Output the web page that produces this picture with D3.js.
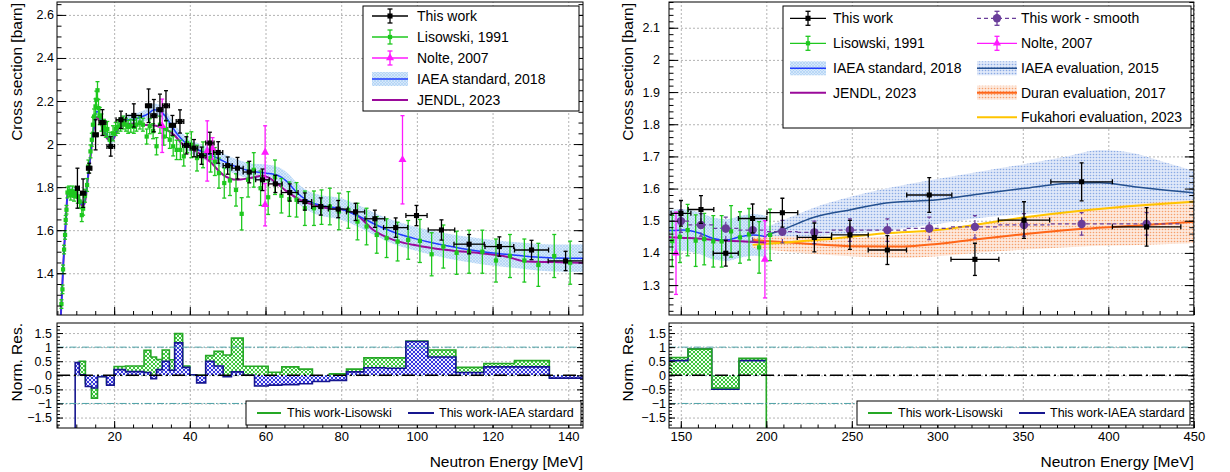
<!DOCTYPE html>
<html>
<head>
<meta charset="utf-8">
<script src="https://d3js.org/d3.v7.min.js"></script>
<style>
  body { margin: 0; background: #fff; }
  svg { font-family: "Liberation Sans", Arial, Helvetica, sans-serif; }
</style>
</head>
<body>
<svg id="chart" width="1230" height="472"></svg>
<script>
// ---- data ----
// [energy MeV, cross section barn, x error, y error]
const thisWork = [
  [10.3,1.795,0.5,0.093],[11.8,1.772,0.7,0.066],[13.4,1.888,0.7,0.023],[15.1,2.043,0.7,0.07],
  [16.9,2.10,0.9,0.06],[19.1,1.989,1.0,0.045],[21.8,2.113,1.3,0.04],[25.2,2.133,2.0,0.054],
  [29.1,2.178,0.8,0.078],[30.5,2.132,0.8,0.075],[32.1,2.16,0.8,0.072],[33.7,2.178,0.9,0.07],
  [35.4,2.087,0.8,0.046],[37.4,2.105,1.0,0.054],[39.1,1.994,1.0,0.04],[41.1,1.981,1.0,0.04],
  [43.1,1.946,1.2,0.04],[45.3,2.005,1.1,0.05],[47.5,1.961,1.2,0.05],[50.0,1.90,1.2,0.04],
  [52.6,1.888,1.5,0.05],[55.7,1.87,1.6,0.05],[59.2,1.834,1.8,0.05],[62.6,1.815,1.8,0.04],
  [66.4,1.775,2.2,0.04],[70.4,1.733,1.8,0.04],[74.6,1.71,2.4,0.04],[79.2,1.698,2.6,0.04],
  [83.8,1.685,2.4,0.04],[88.9,1.653,2.6,0.04],[94.4,1.612,3.2,0.045],[99.9,1.668,2.8,0.047],
  [106.5,1.601,3.5,0.047],[113.8,1.535,4.0,0.045],[121.8,1.524,3.8,0.045],[130.3,1.508,4.5,0.045],
  [139.3,1.457,4.6,0.045],
  [150.1,1.523,5.8,0.04],[161.8,1.535,7.5,0.043],[176.3,1.399,7.3,0.04],[192.0,1.507,8.3,0.045],
  [209.4,1.525,9,0.045],[228.1,1.448,10,0.045],[248.9,1.456,10.7,0.045],[270.8,1.409,11.2,0.045],
  [295.3,1.58,13.2,0.054],[322.0,1.38,14,0.05],[350.7,1.502,15,0.057],[384.4,1.621,18,0.059],
  [422.4,1.481,20,0.06]
];
const thisWorkSmooth = [
  [150.1,1.499,5.8,0.035],[161.8,1.487,7.5,0.035],[176.3,1.476,7.3,0.035],[192.0,1.471,8.3,0.035],
  [209.4,1.466,9,0.035],[228.1,1.464,10,0.035],[248.9,1.471,10.7,0.035],[270.8,1.471,11.2,0.035],
  [295.3,1.476,13.2,0.035],[322.0,1.481,14,0.035],[350.7,1.487,15,0.035],[384.4,1.49,18,0.035],
  [422.4,1.49,20,0.035]
];
// [energy, cross section, y error]
const lisowski = [
  [6.07,1.257,.02],[6.34,1.325,.02],[6.5,1.418,.02],[6.77,1.51,.02],[7.03,1.578,.02],[7.2,1.648,.02],
  [7.4,1.695,.02],[7.67,1.775,.025],[8.1,1.78,.025],[8.54,1.765,.025],[8.99,1.78,.025],[9.4,1.76,.025],
  [9.86,1.775,.025],[10.4,1.755,.03],[10.9,1.733,.03],[11.45,1.67,.03],[11.8,1.70,.03],[12.3,1.76,.03],
  [12.85,1.81,.03],[13.2,1.896,.03],[13.75,1.966,.03],[14.1,2.02,.03],[14.4,2.09,.035],[14.7,2.128,.035],
  [15.07,2.175,.035],[15.3,2.206,.04],[15.6,2.25,.04],[15.86,2.167,.04],[16.2,2.13,.04],[16.65,2.10,.04],
  [17.3,2.08,.035],[17.8,2.067,.035],[18.2,2.07,.035],[18.85,2.02,.035],[19.7,2.05,.035],[20.4,2.07,.03],
  [21.0,2.08,.03],[21.7,2.09,.03],[22.4,2.10,.03],[23.1,2.09,.03],[23.7,2.08,.03],[24.4,2.085,.03],
  [25.2,2.08,.03],[25.9,2.09,.03],[26.8,2.10,.03],[27.6,2.09,.03],[28.6,2.035,.035],[29.4,2.083,.035],
  [30.3,2.06,.035],[31.2,1.99,.04],[32.1,2.09,.04],[33.1,2.035,.04],[33.8,2.07,.04],[34.7,2.02,.04],
  [35.6,1.99,.045],[36.5,1.973,.045],[37.5,1.973,.045],[38.4,1.943,.045],[39.3,2.005,.045],[40.4,1.997,.06],
  [41.9,1.935,.06],[43.5,1.95,.06],[45.5,1.935,.065],[46.6,1.919,.065],[47.7,1.865,.07],[49.1,1.819,.07],
  [50.6,1.831,.07],[52.2,1.787,.075],[53.7,1.676,.075],[55.4,1.834,.08],[56.9,1.88,.08],[58.7,1.795,.08],
  [60.7,1.753,.08],[62.5,1.846,.08],[64.2,1.76,.08],[66.3,1.744,.08],[68.2,1.741,.08],[70.4,1.702,.08],
  [72.8,1.702,.08],[74.8,1.707,.08],[77.0,1.71,.085],[79.4,1.687,.085],[81.9,1.694,.085],[84.3,1.64,.085],
  [86.7,1.617,.085],[89.4,1.578,.085],[92.0,1.563,.09],[94.9,1.547,.09],[97.7,1.555,.09],[100.8,1.55,.1],
  [103.9,1.488,.1],[107.0,1.524,.1],[110.5,1.495,.1],[113.8,1.50,.1],[117.3,1.50,.1],[120.9,1.459,.1],
  [124.6,1.48,.1],[128.4,1.459,.1],[132.1,1.439,.1],[136.3,1.48,.1],[140.5,1.449,.1],[145.0,1.437,.08],
  [149.5,1.45,.08],[154.0,1.471,.08],[158.7,1.438,.08],[163.7,1.443,.08],[169.0,1.436,.08],[173.9,1.436,.08],
  [179.4,1.467,.08],[184.6,1.448,.08],[189.9,1.458,.08],[195.8,1.417,.08],[202.2,1.456,.08]
];
const nolte = [
  [32.7,2.085,0.124],[44.6,1.968,0.14],[46.0,1.98,0.05],[59.9,1.961,0.124],[59.9,1.718,0.098],
  [96.2,1.927,0.205],[147.2,1.399,0.128],[199.2,1.38,0.12]
];
// [energy, cross section, band half width]
const iaeaStd = [
  [5.9,1.2,.02],[6.2,1.3,.02],[6.5,1.42,.02],[6.8,1.52,.02],[7.1,1.6,.02],[7.4,1.7,.02],[7.7,1.77,.02],
  [8.0,1.785,.02],[9.0,1.78,.02],[10.0,1.775,.02],[10.8,1.745,.02],[11.5,1.72,.02],[12.0,1.72,.02],
  [12.5,1.76,.02],[13.0,1.84,.02],[13.6,1.92,.02],[14.2,2.02,.02],[14.8,2.10,.02],[15.3,2.15,.025],
  [15.8,2.15,.025],[16.4,2.11,.025],[17.2,2.07,.025],[18.0,2.045,.025],[18.8,2.025,.025],[19.6,2.025,.025],
  [20.5,2.06,.025],[21.5,2.09,.025],[23,2.11,.025],[25,2.115,.025],[27,2.125,.025],[29,2.14,.028],
  [30.5,2.16,.028],[32,2.155,.028],[33.5,2.13,.028],[35,2.09,.03],[36.5,2.05,.03],[38,2.02,.03],
  [40,1.99,.03],[42.6,1.97,.032],[46,1.945,.034],[51.5,1.90,.035],[56.7,1.872,.037],[60.3,1.865,.04],
  [63.8,1.85,.04],[66,1.82,.042],[68,1.78,.045],[70.9,1.74,.045],[74.4,1.716,.048],[79.7,1.70,.05],
  [84.9,1.663,.05],[90.2,1.617,.052],[94.6,1.586,.055],[99,1.563,.055],[104.3,1.54,.057],[111.4,1.516,.058],
  [118.4,1.498,.06],[125.5,1.485,.06],[132.5,1.474,.062],[140,1.47,.063],[146,1.47,.065],[151.5,1.471,.065],
  [161.2,1.461,.065],[169,1.445,.065],[176.8,1.44,.065],[184.6,1.45,.065],[192.4,1.456,.065],[200.2,1.45,.065]
];
const jendl = [
  [5.9,1.2],[6.2,1.3],[6.5,1.42],[6.8,1.52],[7.1,1.6],[7.4,1.7],[7.7,1.77],[8,1.78],[9,1.775],[10,1.77],
  [10.8,1.74],[11.5,1.715],[12,1.715],[12.5,1.75],[13,1.83],[13.6,1.92],[14.2,2.01],[14.8,2.09],[15.3,2.125],
  [15.8,2.12],[16.4,2.1],[17.2,2.06],[18,2.03],[18.8,2.02],[19.6,2.02],[20.5,2.05],[21.5,2.08],[23,2.09],
  [25,2.095],[28,2.09],[31,2.085],[33.5,2.07],[36,2.04],[38,2.0],[40,1.985],[42.6,1.955],[45.3,1.919],
  [48.8,1.857],[52.3,1.834],[55.9,1.842],[59.4,1.853],[62,1.831],[65.6,1.78],[69.1,1.741],[72.6,1.718],
  [76,1.703],[79.7,1.698],[84.1,1.671],[88.5,1.601],[93.8,1.555],[99,1.532],[104.3,1.516],[109.6,1.505],
  [116.7,1.493],[123.7,1.477],[129,1.454],[136,1.452],[143.8,1.449],[150,1.447],[160,1.445],[170,1.44],
  [180,1.437],[190,1.435],[200,1.432]
];
// [energy, value, band low, band high]
const iaeaEval = [
  [200,1.455,1.43,1.48],[209,1.471,1.43,1.50],[227.5,1.51,1.45,1.54],[250,1.535,1.46,1.575],
  [270,1.555,1.47,1.60],[300,1.565,1.49,1.63],[327,1.585,1.51,1.655],[350,1.60,1.52,1.675],
  [375.7,1.616,1.525,1.70],[395,1.618,1.525,1.72],[415,1.606,1.525,1.71],[434,1.595,1.52,1.68],
  [450,1.587,1.52,1.655]
];
const duran = [
  [192,1.44,1.415,1.455],[220,1.43,1.40,1.45],[250,1.421,1.39,1.447],[280,1.42,1.385,1.457],
  [300,1.428,1.39,1.47],[322,1.442,1.40,1.49],[350,1.458,1.41,1.51],[385,1.475,1.42,1.535],
  [422,1.487,1.425,1.555],[450,1.497,1.43,1.565]
];
const fukahori = [
  [192,1.425],[229.5,1.44],[270,1.461],[300,1.471],[350,1.51],[384,1.531],[422,1.549],[450,1.559]
];
// normalised residuals: bin edges and values
const resEdgesL = [4.9,9.7,10.8,12.4,14,15.6,18,20,23,27.9,29.7,31.2,32.7,34.6,36,38.1,40,41.8,44.2,46.4,
  48.8,51,54.1,57.1,60.7,64.3,68.8,72.4,76.9,81.4,86,91.7,97.1,102.9,110.3,117.7,125.8,135,144.3];
const resLisL = [null,0.43,0.5,-0.27,-0.81,-0.04,-0.3,0.31,0.33,0.89,0.65,0.56,0.9,0.55,1.48,0.33,0.02,0.0,
  0.7,0.85,0.72,1.32,0.32,0.32,0.11,0.3,0.22,-0.05,0.05,0.22,0.62,0.62,1.22,0.9,0.28,0.42,0.52,-0.05];
const resIaeaL = [-5,0.45,0.02,-0.4,-0.45,-0.05,-0.35,0.2,0.13,0.1,-0.12,0.2,0.5,0.18,1.15,0.28,0.02,-0.27,
  0.5,0.33,-0.05,0.12,0.0,-0.38,-0.35,-0.33,-0.3,-0.22,-0.18,0.12,0.27,0.25,1.2,0.65,0.1,0.3,0.3,-0.1];
const resEdgesR = [140,154.2,168.1,184,200,450];
const resLisR = [0.63,0.93,-0.45,0.6,-5];
const resIaeaR = [0.52,0.93,-0.49,0.52,null];

// tick labels
const xTicksL = [20,40,60,80,100,120,140];
const xTicksR = [150,200,250,300,350,400,450];
const yTicksL = [1.4,1.6,1.8,2.0,2.2,2.4,2.6];
const yTicksR = [1.3,1.4,1.5,1.6,1.7,1.8,1.9,2.0,2.1];
const yTicksRes = [-1.5,-1,-0.5,0,0.5,1,1.5];

// ---- layout ----
const FONT = '"Liberation Sans", Arial, Helvetica, sans-serif';
const svg = d3.select('#chart');
const defs = svg.append('defs');

const xL = d3.scaleLinear().domain([4.9, 143.9]).range([57, 583]);
const xR = d3.scaleLinear().domain([143.1, 450]).range([669, 1193.8]);
const yLt = d3.scaleLinear().domain([1.206, 2.66]).range([315, 2]);
const yRt = d3.scaleLinear().domain([1.207, 2.18]).range([315, 2]);
const yRes = d3.scaleLinear().domain([-1.871, 1.857]).range([428, 323]);

function pat(id, w, bg, draw) {
  const p = defs.append('pattern').attr('id', id).attr('patternUnits', 'userSpaceOnUse')
    .attr('width', w).attr('height', w);
  p.append('rect').attr('width', w).attr('height', w).attr('fill', bg);
  draw(p);
}
pat('bandStd', 3, '#d5e8fb', p => p.append('path').attr('d', 'M0,0L3,3M3,0L0,3').attr('stroke', '#a8cdf4').attr('stroke-width', 0.6));
pat('bandEval', 3, '#dfe8f9', p => p.append('circle').attr('cx', 1.5).attr('cy', 1.5).attr('r', 0.8).attr('fill', '#8aaae4'));
pat('bandDuran', 3, '#fde8dc', p => p.append('circle').attr('cx', 1.5).attr('cy', 1.5).attr('r', 0.8).attr('fill', '#f6a06c'));
pat('hatchG', 4, '#3cc43c', p => p.append('path').attr('d', 'M0,0L4,4M4,0L0,4').attr('stroke', '#f2fff2').attr('stroke-width', 1));
pat('hatchB', 4, '#3535dd', p => p.append('path').attr('d', 'M0,0L4,4M4,0L0,4').attr('stroke', '#eeeeff').attr('stroke-width', 1));

let clipN = 0;
function clipped(x, y) {
  const id = 'clip' + (clipN++);
  const [l, r] = x.range(), [b, t] = y.range();
  defs.append('clipPath').attr('id', id).append('rect')
    .attr('x', l).attr('y', t).attr('width', r - l).attr('height', b - t);
  return svg.append('g').attr('clip-path', `url(#${id})`);
}

function grid(x, y, xv, yv) {
  const [l, r] = x.range(), [b, t] = y.range();
  const g = svg.append('g');
  const style = s => {
    s.select('.domain').remove();
    s.selectAll('line').attr('stroke', '#a0a0a0').attr('stroke-width', 0.8).attr('stroke-dasharray', '2,2');
  };
  g.append('g').attr('transform', `translate(0,${b})`)
    .call(d3.axisBottom(x).tickValues(xv).tickSize(-(b - t)).tickFormat('')).call(style);
  g.append('g').attr('transform', `translate(${l},0)`)
    .call(d3.axisLeft(y).tickValues(yv).tickSize(-(r - l)).tickFormat('')).call(style);
}

function axes(x, y, o) {
  const [l, r] = x.range(), [b, t] = y.range();
  const g = svg.append('g');
  const clean = s => {
    s.select('.domain').remove();
    s.selectAll('line').attr('stroke', '#000');
    s.selectAll('text').attr('font-family', FONT).attr('fill', '#000');
  };
  const inside = (v, s) => v.filter(d => d >= s.domain()[0] - 1e-9 && d <= s.domain()[1] + 1e-9);
  g.append('g').attr('transform', `translate(0,${b})`)
    .call(d3.axisBottom(x).tickValues(inside(o.xMajor, x)).tickSize(-o.xt).tickPadding(3.5)
      .tickFormat(o.xLabels ? d3.format('~g') : ''))
    .call(clean).selectAll('text').attr('font-size', 13);
  g.append('g').attr('transform', `translate(0,${b})`)
    .call(d3.axisBottom(x).tickValues(inside(o.xMinor, x)).tickSize(-o.xt / 2).tickFormat('')).call(clean);
  g.append('g').attr('transform', `translate(${l},0)`)
    .call(d3.axisLeft(y).tickValues(o.yMajor).tickSize(-o.yt).tickPadding(o.yPad).tickFormat(d3.format('~g')))
    .call(clean).selectAll('text').attr('font-size', 12.5);
  g.append('g').attr('transform', `translate(${l},0)`)
    .call(d3.axisLeft(y).tickValues(inside(o.yMinor, y)).tickSize(-o.yt / 2).tickFormat('')).call(clean);
  g.append('g').attr('transform', `translate(${r},0)`)
    .call(d3.axisRight(y).tickValues(o.yMajor).tickSize(-o.yt).tickFormat('')).call(clean);
  g.append('g').attr('transform', `translate(${r},0)`)
    .call(d3.axisRight(y).tickValues(inside(o.yMinor, y)).tickSize(-o.yt / 2).tickFormat('')).call(clean);
  g.append('rect').attr('x', l).attr('y', t).attr('width', r - l).attr('height', b - t)
    .attr('fill', 'none').attr('stroke', '#000').attr('stroke-width', 1);
}

const curve = (x, y) => d3.line().x(d => x(d[0])).y(d => y(d[1])).curve(d3.curveMonotoneX);

function band(g, data, x, y, fill, lo, hi) {
  g.append('path').datum(data)
    .attr('d', d3.area().x(d => x(d[0])).y0(lo).y1(hi).curve(d3.curveMonotoneX))
    .attr('fill', `url(#${fill})`).attr('stroke', 'none');
}

function line(g, data, x, y, color, w, dash) {
  g.append('path').datum(data).attr('d', curve(x, y)).attr('fill', 'none')
    .attr('stroke', color).attr('stroke-width', w).attr('stroke-dasharray', dash || null);
}

// rows: {e, s, ex, ey}
function points(g, rows, x, y, st) {
  const grp = g.append('g').attr('stroke', st.color).attr('stroke-width', st.lw || 1.2)
    .attr('stroke-dasharray', st.dash || null);
  const withX = rows.filter(d => d.ex > 0);
  grp.selectAll('line.h').data(withX).join('line').attr('class', 'h')
    .attr('x1', d => x(d.e - d.ex)).attr('x2', d => x(d.e + d.ex))
    .attr('y1', d => y(d.s)).attr('y2', d => y(d.s));
  if (st.xcaps) {
    const caps = withX.flatMap(d => [[d.e - d.ex, d.s], [d.e + d.ex, d.s]]);
    grp.selectAll('line.hc').data(caps).join('line').attr('class', 'hc').attr('stroke-dasharray', null)
      .attr('x1', d => x(d[0])).attr('x2', d => x(d[0]))
      .attr('y1', d => y(d[1]) - 2.5).attr('y2', d => y(d[1]) + 2.5);
  }
  grp.selectAll('line.v').data(rows).join('line').attr('class', 'v')
    .attr('x1', d => x(d.e)).attr('x2', d => x(d.e))
    .attr('y1', d => y(d.s - d.ey)).attr('y2', d => y(d.s + d.ey));
  const vc = rows.flatMap(d => [[d.e, d.s - d.ey], [d.e, d.s + d.ey]]);
  grp.selectAll('line.vc').data(vc).join('line').attr('class', 'vc').attr('stroke-dasharray', null)
    .attr('x1', d => x(d[0]) - 2).attr('x2', d => x(d[0]) + 2)
    .attr('y1', d => y(d[1])).attr('y2', d => y(d[1]));
  g.append('g').selectAll('path').data(rows).join('path')
    .attr('transform', d => `translate(${x(d.e)},${y(d.s)})`)
    .attr('d', d3.symbol().type(st.sym).size(st.size)).attr('fill', st.color);
}

const rows4 = a => a.map(d => ({ e: d[0], s: d[1], ex: d[2], ey: d[3] }));
const rows3 = a => a.map(d => ({ e: d[0], s: d[1], ex: 0, ey: d[2] }));
const within = (rows, x) => rows.filter(d => d.e >= x.domain()[0] && d.e <= x.domain()[1]);

const ST = {
  tw: { color: '#000', sym: d3.symbolSquare, size: 26, xcaps: true, lw: 1.3 },
  lis: { color: '#1ec81e', sym: d3.symbolSquare, size: 18, lw: 1.3 },
  nol: { color: '#ff1aff', sym: d3.symbolTriangle, size: 28, lw: 1.3 },
  sm: { color: '#6a3d9a', sym: d3.symbolCircle, size: 55, dash: '4,3', lw: 1.2 }
};
const C = { std: '#1f3bff', jendl: '#9a0a9a', eval: '#24508f', duran: '#ff6619', fuka: '#ffc400' };

// ================= left top panel =================
const minorL = d3.range(5, 145, 5);
grid(xL, yLt, xTicksL, yTicksL);
{
  const g = clipped(xL, yLt);
  band(g, iaeaStd, xL, yLt, 'bandStd', d => yLt(d[1] - d[2]), d => yLt(d[1] + d[2]));
  line(g, jendl, xL, yLt, C.jendl, 2);
  line(g, iaeaStd, xL, yLt, C.std, 1.5);
  points(g, within(rows3(lisowski), xL), xL, yLt, ST.lis);
  points(g, within(rows3(nolte), xL), xL, yLt, ST.nol);
  points(g, within(rows4(thisWork), xL), xL, yLt, ST.tw);
}
axes(xL, yLt, { xMajor: xTicksL, xMinor: minorL, xt: 8, xLabels: false,
  yMajor: yTicksL, yMinor: d3.range(1.25, 2.66, 0.05), yt: 9, yPad: 3 });

// ================= right top panel =================
grid(xR, yRt, xTicksR, yTicksR);
{
  const g = clipped(xR, yRt);
  band(g, iaeaStd, xR, yRt, 'bandStd', d => yRt(d[1] - d[2]), d => yRt(d[1] + d[2]));
  band(g, iaeaEval, xR, yRt, 'bandEval', d => yRt(d[2]), d => yRt(d[3]));
  band(g, duran, xR, yRt, 'bandDuran', d => yRt(d[2]), d => yRt(d[3]));
  line(g, iaeaEval, xR, yRt, C.eval, 1.5);
  line(g, duran, xR, yRt, C.duran, 2);
  line(g, fukahori, xR, yRt, C.fuka, 2);
  line(g, jendl, xR, yRt, C.jendl, 2);
  line(g, iaeaStd, xR, yRt, C.std, 1.5);
  points(g, within(rows3(lisowski), xR), xR, yRt, ST.lis);
  points(g, within(rows3(nolte), xR), xR, yRt, ST.nol);
  points(g, rows4(thisWorkSmooth), xR, yRt, ST.sm);
  points(g, within(rows4(thisWork), xR), xR, yRt, ST.tw);
}
axes(xR, yRt, { xMajor: xTicksR, xMinor: d3.range(150, 451, 10), xt: 8, xLabels: false,
  yMajor: yTicksR, yMinor: d3.range(1.22, 2.181, 0.02), yt: 9, yPad: 9 });

// ================= residual panels =================
function hist(g, edges, vals, x, y, fill, color, doFill) {
  const lo = y.domain()[0];
  const bins = vals.map((v, i) => ({ a: edges[i], b: edges[i + 1], v })).filter(d => d.v !== null);
  if (doFill) {
    g.append('g').selectAll('rect').data(bins.filter(d => d.v > lo)).join('rect')
      .attr('x', d => x(d.a)).attr('width', d => x(d.b) - x(d.a))
      .attr('y', d => Math.min(y(0), y(d.v))).attr('height', d => Math.abs(y(d.v) - y(0)))
      .attr('fill', `url(#${fill})`);
  }
  if (color) {
    const pts = bins.map(d => [d.a, d.v]);
    pts.push([bins[bins.length - 1].b, bins[bins.length - 1].v]);
    g.append('path').datum(pts)
      .attr('d', d3.line().x(d => x(d[0])).y(d => y(d[1])).curve(d3.curveStepAfter))
      .attr('fill', 'none').attr('stroke', color).attr('stroke-width', 1.6);
  }
}
function refLines(g, x) {
  const [l, r] = x.range();
  g.selectAll('line.ref').data([-1, 1]).join('line').attr('class', 'ref')
    .attr('x1', l).attr('x2', r).attr('y1', d => yRes(d)).attr('y2', d => yRes(d))
    .attr('stroke', '#4fa3a8').attr('stroke-width', 1).attr('stroke-dasharray', '7,2,1.5,2');
  g.append('line').attr('x1', l).attr('x2', r).attr('y1', yRes(0)).attr('y2', yRes(0))
    .attr('stroke', '#000').attr('stroke-width', 1.4).attr('stroke-dasharray', '13,4,2,4');
}
const resMinor = d3.range(-1.875, 1.86, 0.125);
const resLisColor = '#25a825', resIaeaColor = '#16168f';

grid(xL, yRes, xTicksL, yTicksRes);
{
  const g = clipped(xL, yRes);
  hist(g, resEdgesL, resLisL, xL, yRes, 'hatchG', resLisColor, true);
  hist(g, resEdgesL, resIaeaL, xL, yRes, 'hatchB', resIaeaColor, true);
  refLines(g, xL);
}
axes(xL, yRes, { xMajor: xTicksL, xMinor: minorL, xt: 7, xLabels: true,
  yMajor: yTicksRes, yMinor: resMinor, yt: 6, yPad: 5 });

grid(xR, yRes, xTicksR, yTicksRes);
{
  const g = clipped(xR, yRes);
  hist(g, resEdgesR, resIaeaR, xR, yRes, 'hatchB', null, true);
  hist(g, resEdgesR, resLisR, xR, yRes, 'hatchG', null, true);
  hist(g, resEdgesR, resIaeaR, xR, yRes, null, resIaeaColor, false);
  hist(g, resEdgesR, resLisR, xR, yRes, null, resLisColor, false);
  refLines(g, xR);
}
axes(xR, yRes, { xMajor: xTicksR, xMinor: d3.range(150, 451, 10), xt: 7, xLabels: true,
  yMajor: yTicksRes, yMinor: resMinor, yt: 6, yPad: 3 });

// ================= titles =================
function vtitle(x, y, txt) {
  svg.append('text').attr('transform', `translate(${x},${y}) rotate(-90)`)
    .attr('text-anchor', 'end').attr('dy', '0.35em').attr('font-size', 15.5)
    .attr('font-family', FONT).text(txt);
}
vtitle(17, 3, 'Cross section [barn]');
vtitle(628, 3, 'Cross section [barn]');
vtitle(17, 323, 'Norm. Res.');
vtitle(628, 323, 'Norm. Res.');
[[583, 'Neutron Energy [MeV]'], [1193.8, 'Neutron Energy [MeV]']].forEach(([x, t]) =>
  svg.append('text').attr('x', x).attr('y', 467).attr('text-anchor', 'end')
    .attr('font-size', 15.5).attr('font-family', FONT).text(t));

// ================= legends =================
function legendBox(x0, y0, x1, y1) {
  svg.append('rect').attr('x', x0).attr('y', y0).attr('width', x1 - x0).attr('height', y1 - y0)
    .attr('fill', '#fff').attr('stroke', '#000').attr('stroke-width', 1);
}
function legendItem(x0, x1, y, tx, label, k, fs) {
  const g = svg.append('g');
  const cx = (x0 + x1) / 2;
  if (k.fill) {
    g.append('rect').attr('x', x0).attr('y', y - 7).attr('width', x1 - x0).attr('height', 14)
      .attr('fill', `url(#${k.fill})`);
  }
  g.append('line').attr('x1', x0).attr('x2', x1).attr('y1', y).attr('y2', y)
    .attr('stroke', k.color).attr('stroke-width', k.w || 1.3).attr('stroke-dasharray', k.dash || null);
  if (k.sym) {
    g.append('line').attr('x1', cx).attr('x2', cx).attr('y1', y - 7).attr('y2', y + 7)
      .attr('stroke', k.color).attr('stroke-width', 1.3);
    [y - 7, y + 7].forEach(yy => g.append('line').attr('x1', cx - 2.5).attr('x2', cx + 2.5)
      .attr('y1', yy).attr('y2', yy).attr('stroke', k.color).attr('stroke-width', 1.3));
    g.append('path').attr('transform', `translate(${cx},${y})`)
      .attr('d', d3.symbol().type(k.sym).size(k.size)).attr('fill', k.color);
  }
  g.append('text').attr('x', tx).attr('y', y).attr('dy', '0.35em').attr('font-size', fs || 14)
    .attr('font-family', FONT).text(label);
}
const K = {
  tw: { color: '#000', sym: d3.symbolSquare, size: 26 },
  lis: { color: '#1ec81e', sym: d3.symbolSquare, size: 18 },
  nol: { color: '#ff1aff', sym: d3.symbolTriangle, size: 28 },
  sm: { color: '#6a3d9a', sym: d3.symbolCircle, size: 55, dash: '4,3' },
  std: { color: C.std, fill: 'bandStd', w: 1.5 },
  jendl: { color: C.jendl, w: 2 },
  eval: { color: C.eval, fill: 'bandEval', w: 1.5 },
  duran: { color: C.duran, fill: 'bandDuran', w: 2 },
  fuka: { color: C.fuka, w: 2 }
};

legendBox(363, 6, 579, 111);
[['This work', K.tw], ['Lisowski, 1991', K.lis], ['Nolte, 2007', K.nol],
 ['IAEA standard, 2018', K.std], ['JENDL, 2023', K.jendl]].forEach(([t, k], i) =>
  legendItem(372, 408, 16 + i * 21, 417, t, k));

legendBox(783, 6, 1191, 128);
const rowsY = [18.3, 43.3, 68.3, 92.7, 117.3];
[['This work', K.tw], ['Lisowski, 1991', K.lis], ['IAEA standard, 2018', K.std], ['JENDL, 2023', K.jendl]]
  .forEach(([t, k], i) => legendItem(790, 826, rowsY[i], 833, t, k));
[['This work - smooth', K.sm], ['Nolte, 2007', K.nol], ['IAEA evaluation, 2015', K.eval],
 ['Duran evaluation, 2017', K.duran], ['Fukahori evaluation, 2023', K.fuka]]
  .forEach(([t, k], i) => legendItem(977, 1017, rowsY[i], 1021, t, k));

[[246, 581], [857, 1190]].forEach(([a, b]) => {
  legendBox(a, 401, b, 425);
  legendItem(a + 11, a + 35, 413, a + 41, 'This work-Lisowski', { color: resLisColor, w: 2 }, 12.5);
  legendItem(a + 162, a + 188, 413, a + 193, 'This work-IAEA stardard', { color: resIaeaColor, w: 2 }, 12.5);
});
</script>
</body>
</html>
